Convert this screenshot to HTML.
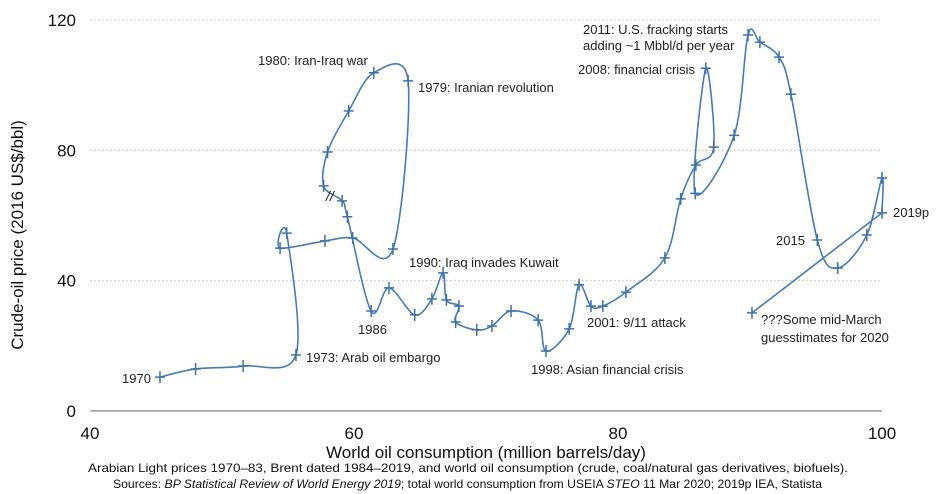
<!DOCTYPE html>
<html><head><meta charset="utf-8"><style>
html,body{margin:0;padding:0;background:#fff;}
svg{display:block;font-family:"Liberation Sans",Arial,sans-serif;}
</style></head><body>
<svg id="chart" width="936" height="494" viewBox="0 0 936 494">
<g id="grid"></g>
<g id="yticks"></g>
<g id="xticks"></g>
<g id="series"></g>
<g id="annotations" font-size="13" fill="#222">
<text x="258" y="65">1980: Iran-Iraq war</text>
<text x="418" y="92">1979: Iranian revolution</text>
<text x="409" y="267">1990: Iraq invades Kuwait</text>
<text x="358" y="334">1986</text>
<text x="306" y="362">1973: Arab oil embargo</text>
<text x="122" y="383">1970</text>
<text x="531" y="374">1998: Asian financial crisis</text>
<text x="587" y="327">2001: 9/11 attack</text>
<text x="578" y="74">2008: financial crisis</text>
<text x="583" y="34">2011: U.S. fracking starts</text>
<text x="583" y="50">adding ~1 Mbbl/d per year</text>
<text x="776" y="245">2015</text>
<text x="893" y="217">2019p</text>
<text x="761" y="324">???Some mid-March</text>
<text x="761" y="342">guesstimates for 2020</text>
<text x="326" y="201" font-size="14" font-style="italic">//</text>
</g>
<text x="486" y="458" text-anchor="middle" font-size="17" fill="#111">World oil consumption (million barrels/day)</text>
<text transform="translate(23,235) rotate(-90)" text-anchor="middle" font-size="17" fill="#111">Crude-oil price (2016 US$/bbl)</text>
<text x="88" y="472" font-size="12" fill="#111" textLength="760" lengthAdjust="spacingAndGlyphs">Arabian Light prices 1970–83, Brent dated 1984–2019, and world oil consumption (crude, coal/natural gas derivatives, biofuels).</text>
<text x="113" y="488" font-size="12" fill="#111" textLength="709" lengthAdjust="spacingAndGlyphs">Sources: <tspan font-style="italic">BP Statistical Review of World Energy 2019</tspan>; total world consumption from USEIA <tspan font-style="italic">STEO</tspan> 11 Mar 2020; 2019p IEA, Statista</text>
</svg>
<script>
const years = [1970,1971,1972,1973,1974,1975,1976,1977,1978,1979,1980,1981,1982,1983,1984,1985,1986,1987,1988,1989,1990,1991,1992,1993,1994,1995,1996,1997,1998,1999,2000,2001,2002,2003,2004,2005,2006,2007,2008,2009,2010,2011,2012,2013,2014,2015,2016,2017,2018,2019,2020];
const consumption = [45.3,48.0,51.6,55.6,54.9,54.4,57.8,59.9,62.95,64.1,61.5,59.6,58.0,57.7,59.1,59.5,61.3,62.65,64.6,65.9,66.75,67.0,67.95,67.7,69.3,70.45,71.9,73.95,74.55,76.3,77.05,77.95,78.85,80.6,83.55,84.75,85.9,87.25,86.65,85.85,88.8,89.85,90.75,92.2,93.1,95.1,96.65,98.85,100.0,100.0,90.15];
const price = [10.4,12.9,13.8,17.2,54.6,50.0,52.2,53.1,49.7,101.3,103.8,92.1,79.5,69.1,64.5,59.6,30.7,37.8,29.5,34.4,42.4,34.1,32.2,27.3,24.9,26.1,30.7,27.9,18.4,25.2,38.7,32.2,32.2,36.5,47.0,65.1,75.5,81.0,105.2,66.8,84.6,115.4,113.2,108.6,97.2,52.5,43.9,54.0,71.5,60.8,30.1];
const yTickValues = [0,40,80,120];
const xTickValues = [40,60,80,100];

const NS = 'http://www.w3.org/2000/svg';
const X0=90, X1=882, Y0=411, Y1=20;
function xs(v){return X0+(v-40)/(100-40)*(X1-X0);}
function ys(v){return Y0-(v/120)*(Y0-Y1);}
function mk(tag,attrs,parent){const e=document.createElementNS(NS,tag);for(const k in attrs)e.setAttribute(k,attrs[k]);parent.appendChild(e);return e;}

const grid=document.getElementById('grid');
const yt=document.getElementById('yticks');
yTickValues.forEach(v=>{
  let l;
  if(v===0){l=mk('line',{x1:X0,x2:X1,y1:ys(v),y2:ys(v),stroke:'#999','stroke-width':1.5},grid);}
  else{l=mk('line',{x1:X0,x2:X1,y1:ys(v),y2:ys(v),stroke:'#bbb','stroke-width':1,'stroke-dasharray':'1.5,2.5'},grid);}
  
  
  const t=mk('text',{x:76,y:ys(v)+6,'text-anchor':'end','font-size':17,fill:'#111'},yt);
  t.textContent=v;
  
  
});
const xt=document.getElementById('xticks');
xTickValues.forEach(v=>{
  const t=mk('text',{x:xs(v),y:439,'text-anchor':'middle','font-size':17,fill:'#111'},xt);
  t.textContent=v;
  
  
});

const s=document.getElementById('series');
const pts=years.map((y,i)=>[xs(consumption[i]),ys(price[i])]);
const n=pts.length-1;
let d='M'+pts[0][0]+','+pts[0][1];
for(let i=0;i<n-1;i++){
  const p0=pts[Math.max(0,i-1)],p1=pts[i],p2=pts[i+1],p3=pts[Math.min(n-1,i+2)];
  const t=1/6;
  const c1=[p1[0]+(p2[0]-p0[0])*t,p1[1]+(p2[1]-p0[1])*t];
  const c2=[p2[0]-(p3[0]-p1[0])*t,p2[1]-(p3[1]-p1[1])*t];
  d+=' C'+c1[0]+','+c1[1]+' '+c2[0]+','+c2[1]+' '+p2[0]+','+p2[1];
}
d+=' L'+pts[n][0]+','+pts[n][1];
const path=mk('path',{d:d,fill:'none',stroke:'#4a7bb0','stroke-width':1.6},s);


pts.forEach((p,i)=>{
  const g=mk('path',{d:'M'+(p[0]-5)+','+p[1]+' h10 M'+p[0]+','+(p[1]-6)+' v12',stroke:'#3f70a8','stroke-width':1.5,fill:'none'},s);
  
  
});
</script>
</body></html>
